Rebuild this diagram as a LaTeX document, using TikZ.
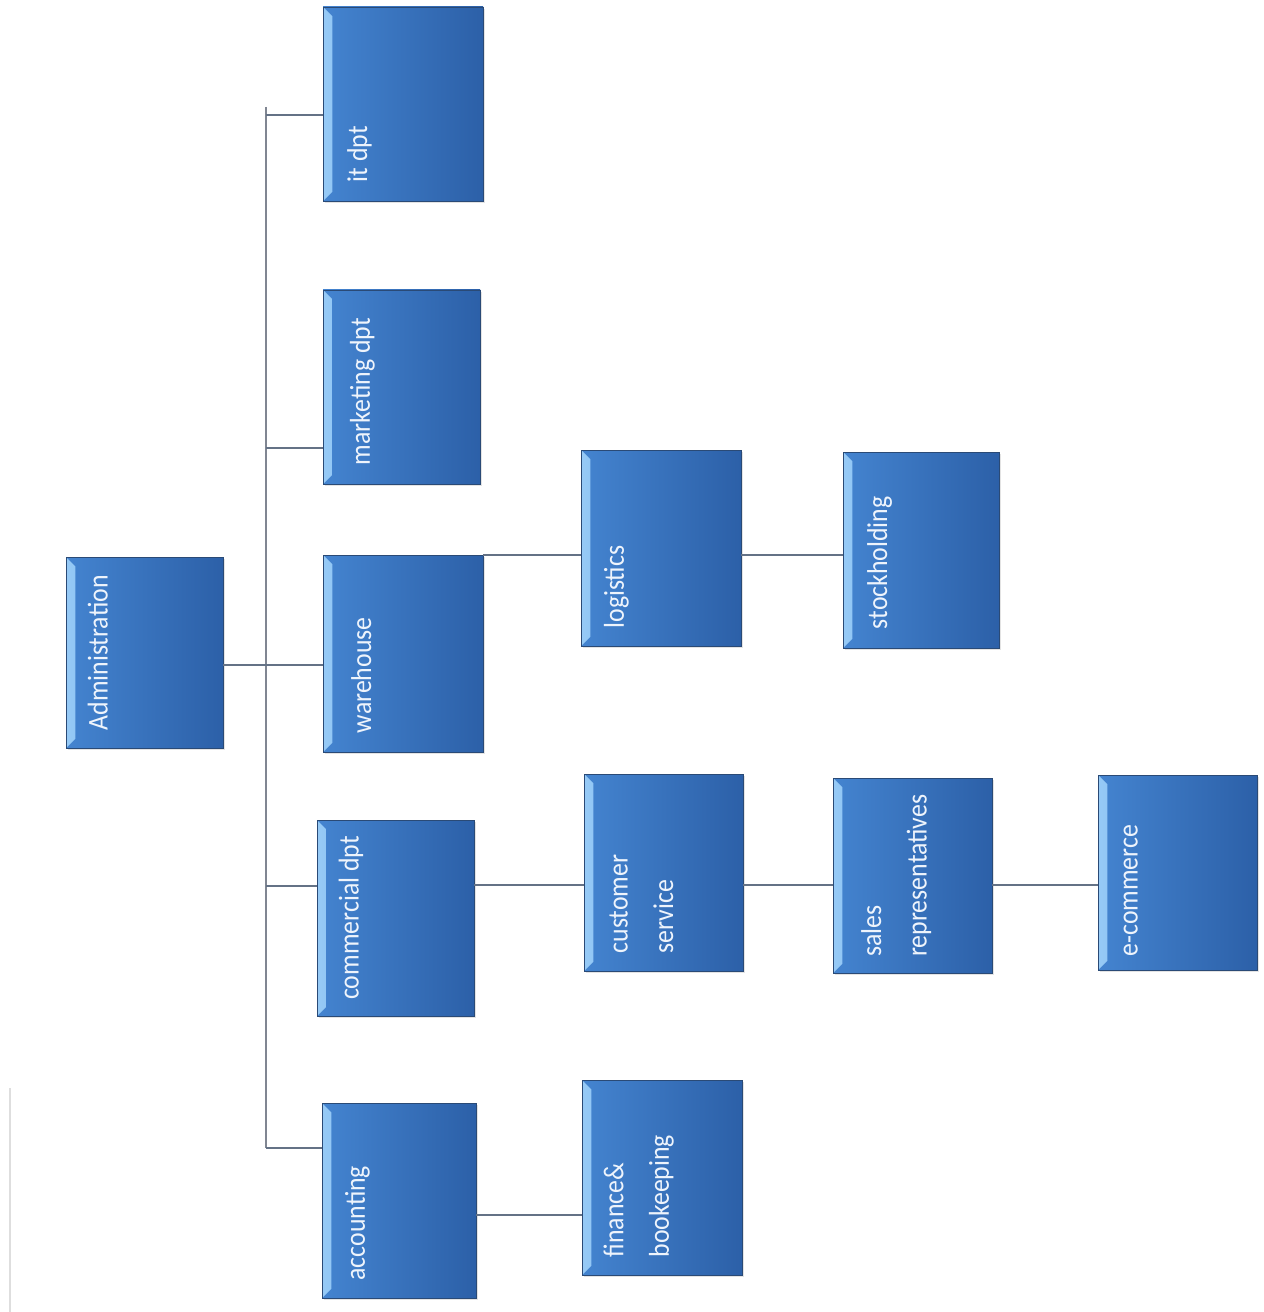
\documentclass[tikz,border=0pt]{standalone}
\usepackage{fontspec}
\newfontfamily\lblfont[FakeStretch=0.9]{Carlito}
\usetikzlibrary{shadows}

\definecolor{boxL}{RGB}{68,132,208}
\definecolor{boxR}{RGB}{44,96,168}
\definecolor{boxEdge}{RGB}{42,74,118}
\definecolor{bevelL}{RGB}{150,202,246}
\definecolor{bevelR}{RGB}{92,152,224}
\definecolor{labelText}{RGB}{238,244,252}
\definecolor{linkCol}{RGB}{100,114,134}
\definecolor{busCol}{RGB}{128,134,146}
\definecolor{faintCol}{RGB}{222,222,222}

\begin{document}
\begin{tikzpicture}[x=0.75pt,y=-0.75pt,
  deptbox/.style 2 args={rectangle, draw=boxEdge, line width=0.7pt,
    left color=boxL, right color=boxR,
    minimum width=#1*0.75pt, minimum height=#2*0.75pt,
    inner sep=0pt, outer sep=0pt,
    drop shadow={opacity=0.22, shadow xshift=1.2pt, shadow yshift=-1.2pt},
    path picture={
      \shade[left color=bevelL, right color=bevelR]
        (path picture bounding box.south west) --
        (path picture bounding box.north west) --
        ([xshift=7pt,yshift=-7pt]path picture bounding box.north west) --
        ([xshift=7pt,yshift=7pt]path picture bounding box.south west) -- cycle;
    }},
  lbl/.style={font=\lblfont\fontsize{21.5}{34}\selectfont, text=labelText,
    rotate=90, anchor=north west, inner sep=0pt, align=left},
  link/.style={draw=linkCol, line width=1.5pt},
  bus/.style={draw=busCol, line width=2pt},
]
\useasboundingbox (0,0) rectangle (1263,1312);
\fill[white] (0,0) rectangle (1263,1312);

% faint rule at the lower left
\draw[faintCol, line width=2.2pt] (10,1088) -- (10,1312);

% boxes
\node[deptbox={157}{191}] (admin) at (144.5,652.5) {};
\node[deptbox={160}{194}] (itdpt) at (403,104) {};
\node[deptbox={157}{194}] (mkt)   at (401.5,387) {};
\node[deptbox={160}{197}] (wh)    at (403,653.5) {};
\node[deptbox={157}{196}] (com)   at (395.5,918) {};
\node[deptbox={154}{195}] (acc)   at (399,1200.5) {};
\node[deptbox={160}{196}] (logi)  at (661,548) {};
\node[deptbox={156}{196}] (stock) at (921,550) {};
\node[deptbox={159}{197}] (cust)  at (663.5,872.5) {};
\node[deptbox={159}{195}] (sales) at (912.5,875.5) {};
\node[deptbox={159}{195}] (ecom)  at (1177.5,872.5) {};
\node[deptbox={160}{195}] (fin)   at (662,1177.5) {};

% labels
\node[lbl] (admin-t) at ([xshift=16pt,yshift=13pt]admin.south west) {Administration};
\node[lbl] (itdpt-t) at ([xshift=18pt,yshift=14pt]itdpt.south west) {it dpt};
\node[lbl] (mkt-t)   at ([xshift=20pt,yshift=14pt]mkt.south west) {marketing dpt};
\node[lbl] (wh-t)    at ([xshift=21pt,yshift=14pt]wh.south west) {warehouse};
\node[lbl] (com-t)   at ([xshift=16pt,yshift=12pt]com.south west) {commercial dpt};
\node[lbl] (acc-t)   at ([xshift=17pt,yshift=13pt]acc.south west) {accounting};
\node[lbl] (logi-t)  at ([xshift=17pt,yshift=13pt]logi.south west) {logistics};
\node[lbl] (stock-t) at ([xshift=18pt,yshift=14pt]stock.south west) {stockholding};
\node[lbl] (cust-t)  at ([xshift=19pt,yshift=13pt]cust.south west) {customer\\service};
\node[lbl] (sales-t) at ([xshift=21pt,yshift=12pt]sales.south west) {sales\\representatives};
\node[lbl] (ecom-t)  at ([xshift=19pt,yshift=10pt]ecom.south west) {e-commerce};
\node[lbl] (fin-t)   at ([xshift=16pt,yshift=13pt]fin.south west) {finance\&\\bookeeping};

% vertical bus and its junctions
\coordinate (busTop) at (266,107);
\coordinate (jIt)    at (266,115);
\coordinate (jMkt)   at (266,448);
\coordinate (jWh)    at (266,665);
\coordinate (jCom)   at (266,886);
\coordinate (busBot) at (266,1148);
\draw[bus] (busTop) -- (busBot);

\draw[link] (jIt) -- (jIt -| itdpt.west);
\draw[link] (jMkt) -- (jMkt -| mkt.west);
\draw[link] (admin.east |- jWh) -- (jWh -| wh.west);
\draw[link] (jCom) -- (jCom -| com.west);
\draw[link] (busBot) -- (busBot -| acc.west);

% horizontal rows
\coordinate (rowA) at (0,555);
\coordinate (rowB) at (0,885);
\coordinate (rowC) at (0,1215);
\draw[link] (wh.east |- rowA) -- (logi.west |- rowA);
\draw[link] (logi.east |- rowA) -- (stock.west |- rowA);
\draw[link] (com.east |- rowB) -- (cust.west |- rowB);
\draw[link] (cust.east |- rowB) -- (sales.west |- rowB);
\draw[link] (sales.east |- rowB) -- (ecom.west |- rowB);
\draw[link] (acc.east |- rowC) -- (fin.west |- rowC);
\end{tikzpicture}
\end{document}
